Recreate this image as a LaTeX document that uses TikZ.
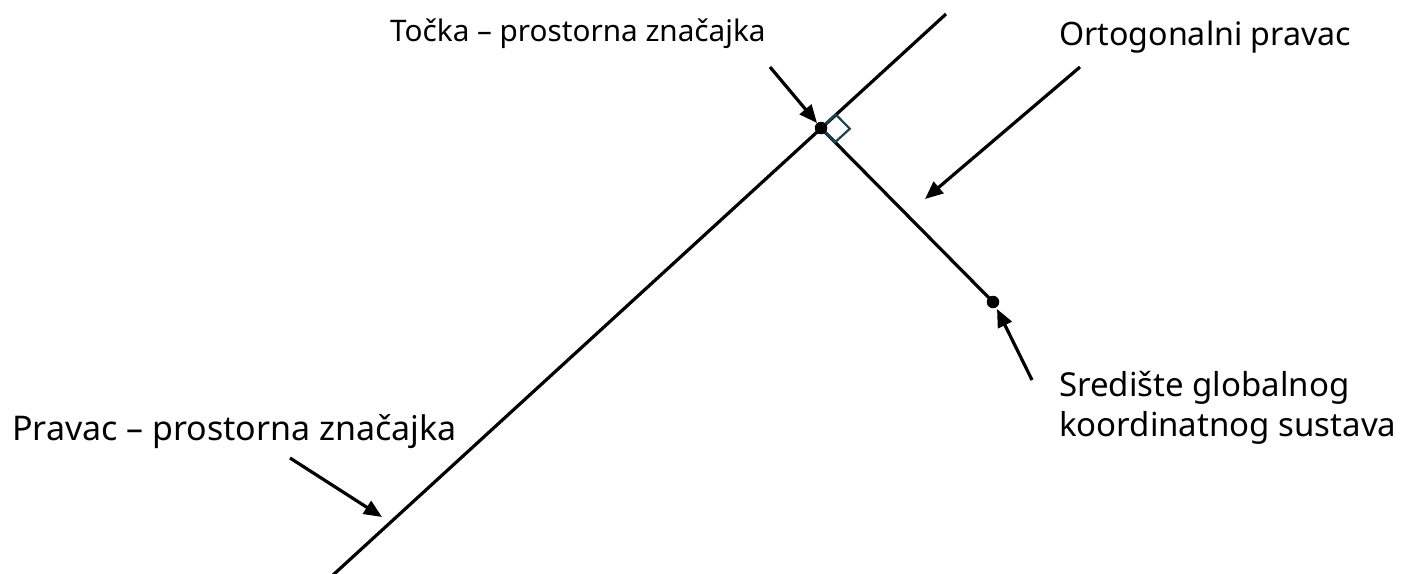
\documentclass[tikz,border=0pt]{standalone}
\usepackage{fontspec}
\setmainfont{Noto Sans}
\usetikzlibrary{arrows.meta,calc}
\definecolor{marker}{RGB}{31,65,80}
\tikzset{
  geoline/.style={line width=3.2pt, black},
  callout/.style={line width=3.2pt, black, -{Triangle[length=18pt,width=15pt]}},
  dotpt/.style={circle, fill=black, inner sep=0pt, minimum size=12.5pt},
  label/.style={anchor=base west, inner sep=0pt, text=black},
  bigtxt/.style={font=\fontsize{34}{40}\selectfont},
  midtxt/.style={font=\fontsize{33}{40}\selectfont},
  orthtxt/.style={font=\fontsize{32.2}{40}\selectfont},
  smalltxt/.style={font=\fontsize{29.7}{36}\selectfont},
}
\begin{document}
\begin{tikzpicture}[x=1pt,y=-1pt]
\useasboundingbox (0,0) rectangle (1407,573);
% geometry
\coordinate (L1) at (333,575);
\coordinate (L2) at (946,14);
\coordinate (P) at (821,128);
\coordinate (O) at (993,302);
\draw[geoline] (L1) -- (L2);
\draw[geoline] (P) -- (O);
% right angle marker
\coordinate (Pu) at ($(P)!20pt!(L2)$);
\coordinate (Pv) at ($(P)!20pt!(O)$);
\draw[marker, line width=2.2pt] (P) -- (Pu) -- ($(Pu)+(Pv)-(P)$) -- (Pv) -- cycle;
\node[dotpt] (dP) at (P) {};
\node[dotpt] (dO) at (O) {};
% labels
\node[label, smalltxt] (tocka) at (390,41) {Točka – prostorna značajka};
\node[label, orthtxt] (ortho) at (1059,45) {Ortogonalni pravac};
\node[label, midtxt] (sred) at (1059,396) {Središte globalnog};
\node[label, midtxt] (sred2) at (1059,436) {koordinatnog sustava};
\node[label, bigtxt] (pravac) at (12,440) {Pravac – prostorna značajka};
% callout arrows
\coordinate (a1s) at (770,67);  \coordinate (a1e) at (817,123);
\coordinate (a2s) at (1080,67); \coordinate (a2e) at (925,199);
\coordinate (a3s) at (1032,380);\coordinate (a3e) at (997,309);
\coordinate (a4s) at (290,458); \coordinate (a4e) at (382,517);
\draw[callout] (a1s) -- (a1e);
\draw[callout] (a2s) -- (a2e);
\draw[callout] (a3s) -- (a3e);
\draw[callout] (a4s) -- (a4e);
\end{tikzpicture}
\end{document}
